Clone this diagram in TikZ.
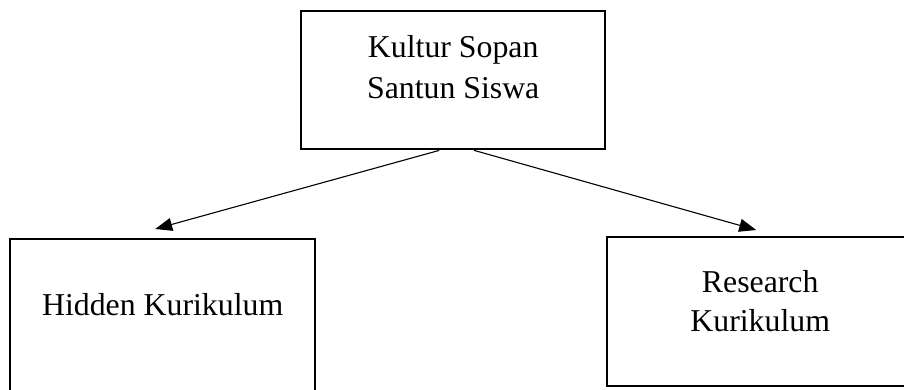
\documentclass[tikz,border=0pt]{standalone}
\usepackage{fontspec}
\setmainfont{Liberation Serif}
\usetikzlibrary{arrows.meta, positioning}

\begin{document}
\begin{tikzpicture}[
        x=1pt, y=-1pt,
        box/.style={rectangle, draw, line width=2.4pt, inner xsep=0pt, inner ysep=0pt, minimum width=305pt, align=center, font=\fontsize{31.8}{41}\selectfont},
        arrow/.style={-{Triangle[length=17pt, width=13pt]}, line width=1.1pt}
    ]
        \useasboundingbox (0,0) rectangle (904,390);

        % Boxes
        \node[box, anchor=north west, minimum width=304pt, text height=87pt, text depth=51pt] (kultur) at (300,10) {Kultur Sopan\\Santun Siswa};
        \node[box, anchor=north west, text height=76pt, text depth=100pt] (hidden) at (9,238) {Hidden Kurikulum};
        \node[box, anchor=north west, minimum width=306pt, text height=94pt, text depth=55pt, font=\fontsize{31.8}{39}\selectfont] (research) at (606,236) {Research\\Kurikulum};

        % Arrows
        \draw[arrow] ([xshift=-14pt]kultur.south) -- ([shift={(-7.5pt,9pt)}]hidden.north);
        \draw[arrow] ([xshift=21pt]kultur.south) -- ([shift={(-4pt,6pt)}]research.north);
    \end{tikzpicture}
\end{document}
